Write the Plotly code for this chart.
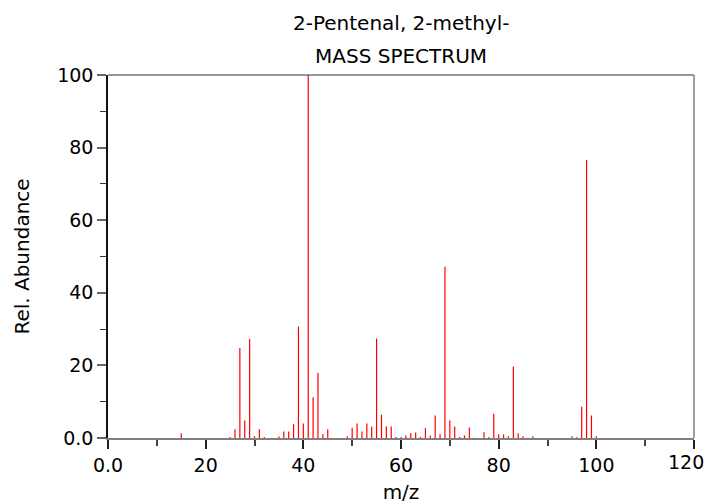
import plotly.graph_objects as go

mz = [15, 25, 26, 27, 28, 29, 30, 31, 32, 35, 36, 37, 38, 39, 40, 41, 42, 43, 44, 45,
      49, 50, 51, 52, 53, 54, 55, 56, 57, 58, 59, 60, 61, 62, 63, 64, 65, 66, 67, 68,
      69, 70, 71, 72, 73, 74, 75, 77, 78, 79, 80, 81, 82, 83, 84, 85, 86, 87,
      95, 96, 97, 98, 99, 100]
abundance = [1.3, 0.3, 2.4, 24.8, 4.8, 27.3, 0.5, 2.4, 0.3, 0.4, 1.8, 1.8, 3.8, 30.7, 4.0, 100, 11.2, 18.0, 1.0, 2.4,
             0.5, 2.8, 4.0, 1.8, 4.0, 3.2, 27.4, 6.4, 3.2, 3.2, 0.3, 0.3, 0.7, 1.3, 1.5, 0.3, 2.7, 0.7, 6.2, 1.0,
             47.2, 4.8, 3.2, 0.3, 0.7, 2.9, 0.1, 1.6, 0.3, 6.7, 1.0, 1.0, 0.5, 19.7, 1.3, 0.5, 0.1, 0.5,
             0.5, 0.2, 8.6, 76.6, 6.2, 0.5]

x_ticks = [0, 20, 40, 60, 80, 100, 120]
x_tick_labels = ["0.0", "20", "40", "60", "80", "100", "120"]
y_ticks = [0, 20, 40, 60, 80, 100]
y_tick_labels = ["0.0", "20", "40", "60", "80", "100"]

title_line1 = "2-Pentenal, 2-methyl-"
title_line2 = "MASS SPECTRUM"

xs, ys = [], []
for m, a in zip(mz, abundance):
    xs += [m, m, None]
    ys += [0, a, None]

fig = go.Figure()
fig.add_trace(go.Scatter(x=xs, y=ys, mode="lines",
                         line=dict(color="#ff0000", width=1.2),
                         hoverinfo="skip", showlegend=False))

tick_font = dict(family="DejaVu Sans", size=19, color="#000000")
label_font = dict(family="DejaVu Sans", size=20, color="#000000")

# last x label is drawn as an annotation nudged inward so it stays inside the window
shown_x_labels = x_tick_labels[:-1] + [""]

fig.update_layout(
    width=707, height=496,
    margin=dict(l=100, r=21, t=67, b=66),
    paper_bgcolor="white", plot_bgcolor="white",
    font=tick_font,
    showlegend=False,
    xaxis=dict(range=[0, 120], tickvals=x_ticks, ticktext=shown_x_labels,
               automargin=False,
               showgrid=False, zeroline=False, showline=True,
               linecolor="#808080", linewidth=1.5,
               ticks="outside", ticklen=9, tickcolor="#222222", tickwidth=1.5,
               minor=dict(dtick=10, ticks="outside", ticklen=6, tickcolor="#444444", tickwidth=1.5),
               title=dict(text="m/z", font=label_font, standoff=15),
               tickfont=tick_font),
    yaxis=dict(range=[0, 100], tickvals=y_ticks, ticktext=y_tick_labels,
               automargin=False,
               showgrid=False, zeroline=False, showline=True,
               linecolor="#111111", linewidth=1.5,
               ticks="outside", ticklen=9, tickcolor="#666666", tickwidth=1.5,
               minor=dict(dtick=10, ticks="outside", ticklen=6, tickcolor="#333333", tickwidth=1),
               title=dict(text="Rel. Abundance", font=label_font, standoff=22),
               tickfont=tick_font),
    shapes=[
        dict(type="line", xref="paper", yref="paper", x0=0, x1=1, y0=1, y1=1,
             line=dict(color="#333333", width=1.2)),
        dict(type="line", xref="paper", yref="paper", x0=1, x1=1, y0=0, y1=1,
             line=dict(color="#808080", width=1.5)),
    ],
    annotations=[
        dict(text=title_line1, xref="paper", yref="paper", x=0.5, y=1.143,
             xanchor="center", yanchor="middle", showarrow=False, font=label_font),
        dict(text=title_line2, xref="paper", yref="paper", x=0.5, y=1.052,
             xanchor="center", yanchor="middle", showarrow=False, font=label_font),
        dict(text=x_tick_labels[-1], xref="x", yref="paper", x=x_ticks[-1], y=0,
             xanchor="center", yanchor="top", xshift=-8, yshift=-11,
             showarrow=False, font=tick_font),
    ],
)

fig.write_html("out.html")
